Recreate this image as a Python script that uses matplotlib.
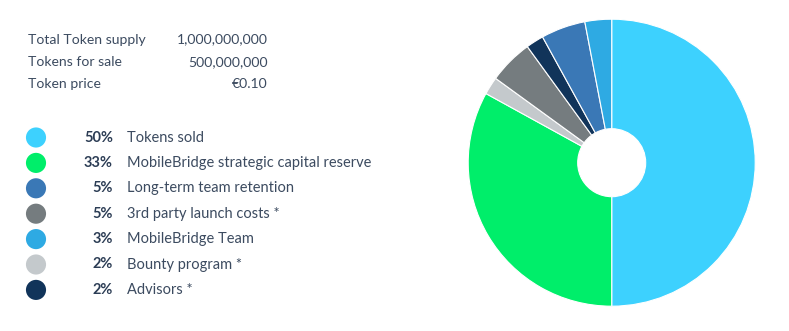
import matplotlib.pyplot as plt

# token facts
info_labels = ['Total Token supply', 'Tokens for sale', 'Token price']
info_values = ['1,000,000,000', '500,000,000', '€0.10']

# allocation (legend order)
shares = [50, 33, 5, 5, 3, 2, 2]
names = ['Tokens sold', 'MobileBridge strategic capital reserve',
         'Long-term team retention', '3rd party launch costs *',
         'MobileBridge Team', 'Bounty program *', 'Advisors *']
colors = ['#3dd1fe', '#00ee6a', '#3a78b6', '#757c7f', '#2eaae3', '#c4c9cc', '#11345a']
pie_order = [0, 1, 5, 3, 6, 2, 4]   # clockwise from top as drawn

txt_col = '#3c4b60'
plt.rcParams['font.family'] = ['Lato', 'DejaVu Sans']

fig = plt.figure(figsize=(7.89, 3.31), dpi=100)

# text panel in pixel coords
ax = fig.add_axes([0, 0, 1, 1])
ax.set_xlim(0, 789)
ax.set_ylim(331, 0)
ax.axis('off')

for i, (lab, val) in enumerate(zip(info_labels, info_values)):
    y = 39.5 + i * 22.5
    ax.text(28, y, lab, fontsize=10.1, color=txt_col, va='center', ha='left')
    ax.text(268, y, val, fontsize=10.1, color=txt_col, va='center', ha='right')

for i, (s, n, c) in enumerate(zip(shares, names, colors)):
    y = 137.5 + i * 25.4
    ax.scatter([36], [y], s=210, color=c, edgecolors='none')
    ax.text(113, y, f'{s}%', fontsize=10.5, color='#2c3d55', fontweight='bold',
            va='center', ha='right')
    ax.text(127, y, n, fontsize=10.5, color=txt_col, va='center', ha='left')

# donut
pax = fig.add_axes([468.2 / 789, (331 - 306.2) / 331, 287 / 789, 287 / 331])
pax.pie([shares[k] for k in pie_order], colors=[colors[k] for k in pie_order],
        startangle=90, counterclock=False, radius=1,
        wedgeprops=dict(width=1 - 34 / 143.5, edgecolor='white', linewidth=0.8))
pax.set_xlim(-1, 1)
pax.set_ylim(-1, 1)
pax.set_aspect('equal')

fig.savefig('out.png', dpi=100)
